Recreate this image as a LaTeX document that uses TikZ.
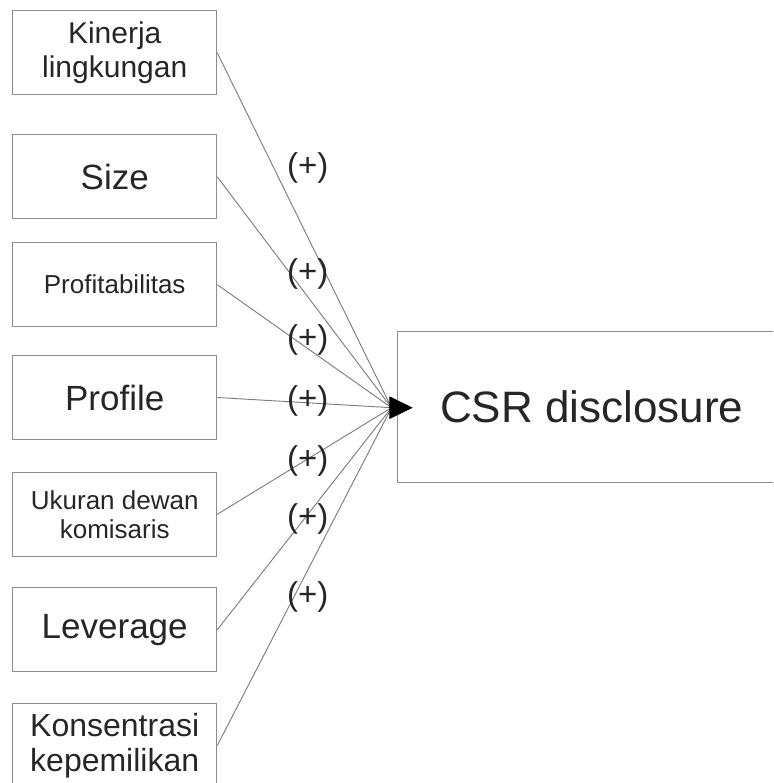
\documentclass[tikz,border=0pt]{standalone}
\usepackage{fontspec}
\setmainfont{Liberation Sans}
\usetikzlibrary{arrows.meta}
\definecolor{txt}{HTML}{262626}
\definecolor{boxline}{HTML}{8C8C8C}
\definecolor{conn}{HTML}{7A7A7A}
\begin{document}
\begin{tikzpicture}[x=1pt,y=-1pt,
  varbox/.style={draw=boxline,line width=1.2pt,minimum width=204pt,minimum height=84pt,inner sep=0pt,align=center,text=txt},
  csrbox/.style={draw=boxline,line width=1.2pt,minimum width=389pt,minimum height=151pt,inner sep=0pt,text=txt,font=\fontsize{44}{50}\selectfont},
  conline/.style={draw=conn,line width=0.9pt},
  sign/.style={text=txt,inner sep=0pt,font=\fontsize{33}{36}\selectfont}]
\useasboundingbox (0,0) rectangle (773,783);
\clip (0,0) rectangle (773,783);
\node[varbox,font=\fontsize{30}{34}\selectfont] (b1) at (114.7,52.9) {Kinerja\\lingkungan};
\node[varbox,font=\fontsize{35}{40}\selectfont] (b2) at (114.7,176.9) {Size};
\node[varbox,font=\fontsize{26}{30}\selectfont] (b3) at (114.7,284.7) {Profitabilitas};
\node[varbox,font=\fontsize{35}{40}\selectfont] (b4) at (114.7,397.5) {Profile};
\node[varbox,font=\fontsize{26}{29}\selectfont] (b5) at (114.7,514.3) {Ukuran dewan\\komisaris};
\node[varbox,font=\fontsize{35}{40}\selectfont] (b6) at (114.7,629.7) {Leverage};
\node[varbox,font=\fontsize{32}{35}\selectfont] (b7) at (114.7,745.5) {Konsentrasi\\kepemilikan};
\node[csrbox] (csr) at (591.8,407.2) {CSR disclosure};
\coordinate (hub) at (391.5,407.7);
\coordinate (base) at (389.3,407.7);
\coordinate (tip) at (412.7,407.7);
\foreach \b in {b1,b2,b3,b4,b5,b6,b7} {\draw[conline] (\b.east) -- (hub);}
\draw[conline,-{Triangle[length=23.4pt,width=22.6pt]},fill=black,draw=black] (base) -- (tip);
\node[sign] (s1) at (307.7,168.3) {(+)};
\node[sign] (s2) at (307.7,274) {(+)};
\node[sign] (s3) at (307.7,340.3) {(+)};
\node[sign] (s4) at (307.7,400.7) {(+)};
\node[sign] (s5) at (307.7,460.7) {(+)};
\node[sign] (s6) at (307.7,519) {(+)};
\node[sign] (s7) at (307.7,597.3) {(+)};
\end{tikzpicture}
\end{document}
